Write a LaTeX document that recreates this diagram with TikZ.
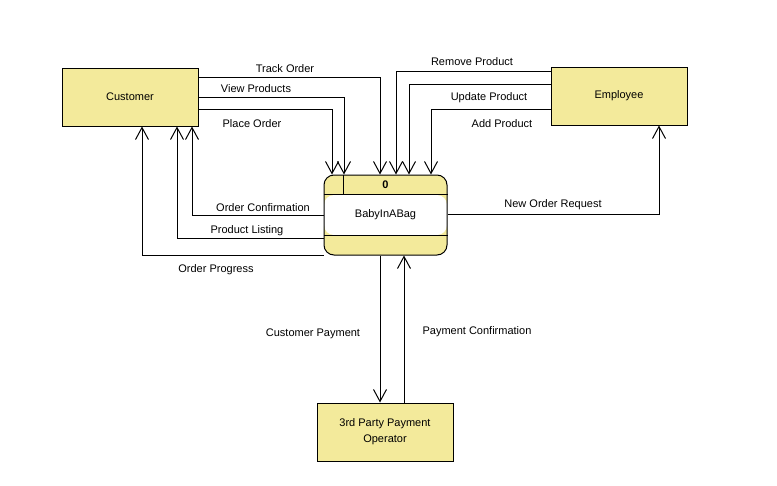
\documentclass[tikz,border=0pt]{standalone}
\usepackage{fontspec}
\setmainfont{Liberation Sans}
\usetikzlibrary{arrows.meta}
\definecolor{boxfill}{RGB}{243,234,155}
\begin{document}
\begin{tikzpicture}[x=1pt,y=-1pt,
    every node/.style={font=\fontsize{11}{16}\selectfont},
    entity/.style={draw,fill=boxfill,line width=1pt,minimum width=136pt,minimum height=58pt,align=center},
    process/.style={draw,fill=boxfill,line width=1pt,rounded corners=10pt,minimum width=123pt,minimum height=80pt,
      path picture={\fill[white] ([yshift=-20pt]path picture bounding box.north west)
        rectangle ([yshift=20pt]path picture bounding box.south east);}},
    flow/.style={line width=1pt,-{Straight Barb[length=12pt,width=13pt]}},
    lbl/.style={inner sep=1pt}]
  \useasboundingbox (0,0) rectangle (777,485);
  \node[entity] (cust) at (130,97) {Customer};
  \node[entity] (emp) at (619,96) {Employee};
  \node[process] (proc) at (385.5,215) {BabyInABag};
  \node[entity] (pay) at (385,432) {3rd Party Payment\\Operator};
  \draw[line width=1pt] ([yshift=-20pt]proc.north west) -- ([yshift=-20pt]proc.north east);
  \draw[line width=1pt] ([yshift=20pt]proc.south west) -- ([yshift=20pt]proc.south east);
  \draw[line width=1pt] ([xshift=20pt]proc.north west) -- ([xshift=20pt,yshift=-20pt]proc.north west);
  \node[font=\fontsize{11}{13}\selectfont\bfseries] (procid) at ([yshift=-10pt]proc.north) {0};
  \draw[flow] ([yshift=20pt]cust.east) -| ([xshift=-5.5pt]proc.north);
  \draw[flow] ([yshift=0pt]cust.east) -| ([xshift=-41.5pt]proc.north);
  \draw[flow] ([yshift=-12pt]cust.east) -| ([xshift=-53.5pt]proc.north);
  \draw[flow] (proc.west) -| ([xshift=62pt]cust.south);
  \draw[flow] ([yshift=-23pt]proc.west) -| ([xshift=47pt]cust.south);
  \draw[flow] ([yshift=-40pt]proc.west) -| ([xshift=12pt]cust.south);
  \draw[flow] ([yshift=25pt]emp.west) -| ([xshift=10.5pt]proc.north);
  \draw[flow] ([yshift=12pt]emp.west) -| ([xshift=23.5pt]proc.north);
  \draw[flow] ([yshift=-13pt]emp.west) -| ([xshift=45.5pt]proc.north);
  \draw[flow] ([yshift=1pt]proc.east) -| ([xshift=40pt]emp.south);
  \draw[flow] ([xshift=-5.5pt]proc.south) -- ([xshift=-5.5pt]proc.south |- pay.north);
  \draw[flow] ([xshift=19pt]pay.north) -- ([xshift=19pt]pay.north |- proc.south);
  \node[lbl] (ltrack) at (285,68.5) {Track Order};
  \node[lbl] (lview) at (256,88.5) {View Products};
  \node[lbl] (lplace) at (252,123.5) {Place Order};
  \node[lbl] (lconf) at (263,207.5) {Order Confirmation};
  \node[lbl] (llist) at (247,230.5) {Product Listing};
  \node[lbl] (lprog) at (216,269.5) {Order Progress};
  \node[lbl] (lremove) at (472,61.5) {Remove Product};
  \node[lbl] (lupdate) at (489,97.5) {Update Product};
  \node[lbl] (ladd) at (502,123.5) {Add Product};
  \node[lbl] (lnew) at (553,204.5) {New Order Request};
  \node[lbl] (lcpay) at (313,333.5) {Customer Payment};
  \node[lbl] (lpconf) at (477,331.5) {Payment Confirmation};
\end{tikzpicture}
\end{document}
